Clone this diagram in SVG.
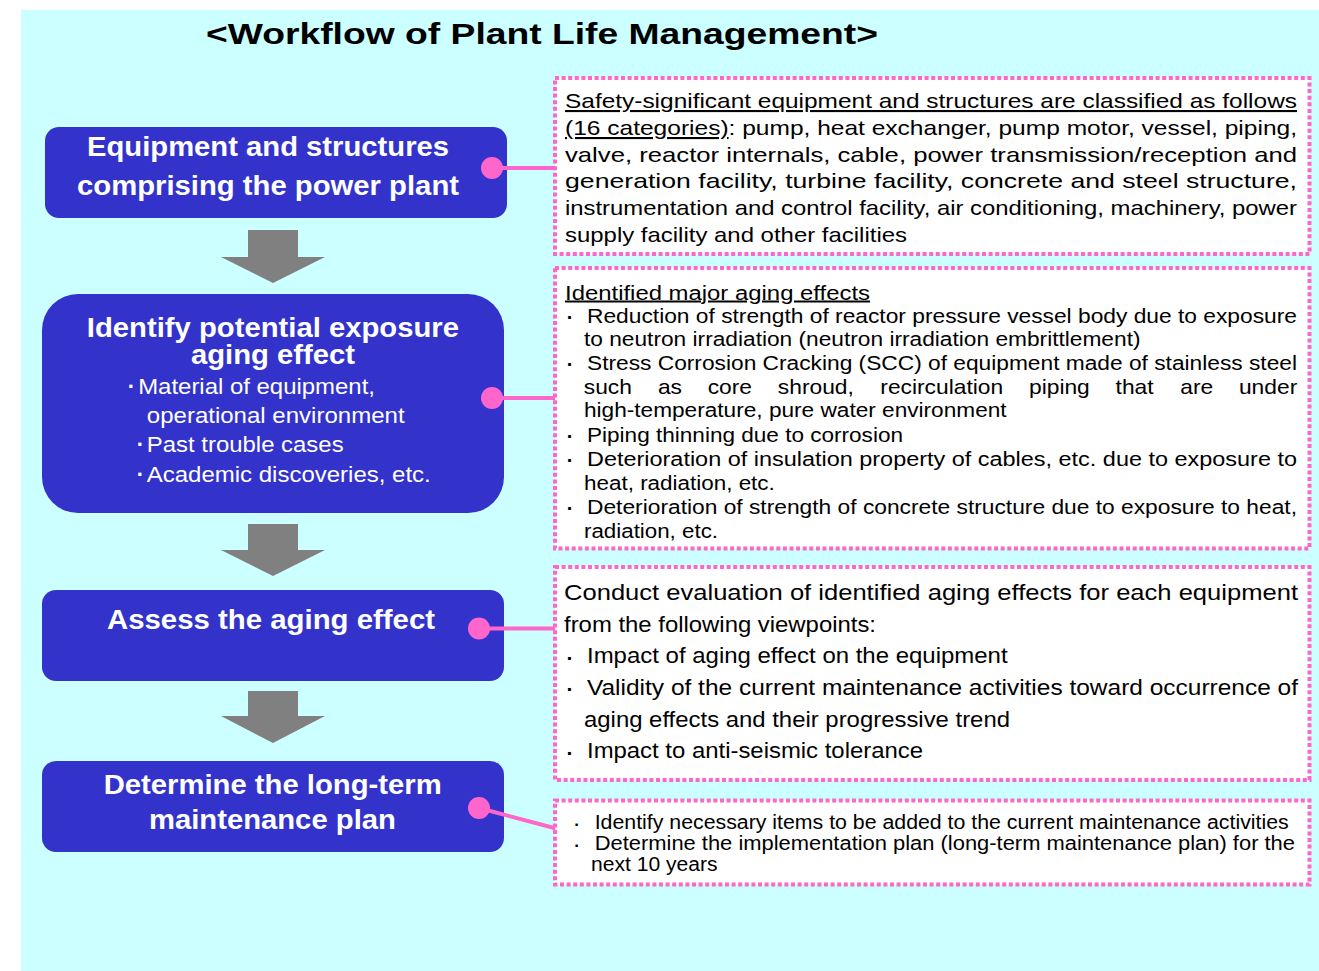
<svg xmlns="http://www.w3.org/2000/svg" width="1319" height="971" viewBox="0 0 1319 971">
<style>
.bg{fill:#CCFFFF}
.node{fill:#3333CC}
.nt{font-family:"Liberation Sans",Arial,sans-serif;font-weight:bold;fill:#FFFFFF;text-anchor:middle}
.nb{font-family:"Liberation Sans",Arial,sans-serif;fill:#FFFFFF}
.dot{font-family:"Liberation Sans",Arial,sans-serif;font-weight:bold;text-anchor:middle}
.note{fill:#FFFFFF;stroke:#FF66CC;stroke-width:4;stroke-dasharray:4 2.6}
.tx{font-family:"Liberation Sans",Arial,sans-serif;fill:#000000}
.ul{text-decoration:underline}
.arrow{fill:#808080}
.conn{stroke:#FF66CC;stroke-width:4;fill:none}
.cdot{fill:#FF66CC}
</style>
<rect class="bg" x="21" y="10" width="1298" height="961"/>
<text x="206" y="44" font-family="Liberation Sans,Arial,sans-serif" font-weight="bold" font-size="30" textLength="672" lengthAdjust="spacingAndGlyphs" fill="#000">&lt;Workflow of Plant Life Management&gt;</text>

<g id="arrows">
<polygon class="arrow" points="248,230 298,230 298,257 325,257 273,283 221,257 248,257"/>
<polygon class="arrow" points="248,524 298,524 298,550 325,550 273,576 221,550 248,550"/>
<polygon class="arrow" points="248,691 298,691 298,716 325,716 273,743 221,716 248,716"/>
</g>

<g id="node-equipment">
<rect class="node" x="45" y="127" width="462" height="91" rx="14"/>
<text class="nt" x="268" y="156" font-size="28" textLength="362" lengthAdjust="spacingAndGlyphs">Equipment and structures</text>
<text class="nt" x="268" y="195" font-size="28" textLength="382" lengthAdjust="spacingAndGlyphs">comprising the power plant</text>
</g>

<g id="node-identify">
<rect class="node" x="42" y="294" width="462" height="219" rx="36"/>
<text class="nt" font-size="28" transform="scale(1.045 1)"><tspan x="261.2" y="337">Identify potential exposure</tspan><tspan x="261.2" y="364">aging effect</tspan></text>
<text class="dot" x="131.5" y="394" font-size="22" fill="#FFFFFF">·</text>
<text class="nb" x="138.2" y="394" font-size="21.5" textLength="236.8" lengthAdjust="spacingAndGlyphs">Material of equipment,</text>
<text class="nb" x="146.8" y="423" font-size="21.5" textLength="257.8" lengthAdjust="spacingAndGlyphs">operational environment</text>
<text class="dot" x="140.4" y="452" font-size="22" fill="#FFFFFF">·</text>
<text class="nb" x="146.8" y="452" font-size="21.5" textLength="196.8" lengthAdjust="spacingAndGlyphs">Past trouble cases</text>
<text class="dot" x="140.4" y="482" font-size="22" fill="#FFFFFF">·</text>
<text class="nb" x="146.8" y="481.7" font-size="21.5" textLength="283.9" lengthAdjust="spacingAndGlyphs">Academic discoveries, etc.</text>
</g>

<g id="node-assess">
<rect class="node" x="42" y="590" width="462" height="91" rx="14"/>
<text class="nt" x="271" y="629" font-size="28" textLength="328" lengthAdjust="spacingAndGlyphs">Assess the aging effect</text>
</g>

<g id="node-determine">
<rect class="node" x="42" y="761" width="462" height="91" rx="14"/>
<text class="nt" x="272.7" y="794" font-size="28" textLength="338" lengthAdjust="spacingAndGlyphs">Determine the long-term</text>
<text class="nt" x="272.4" y="829" font-size="28" textLength="247" lengthAdjust="spacingAndGlyphs">maintenance plan</text>
</g>

<g id="connectors">
<line class="conn" x1="492" y1="168" x2="556" y2="168"/>
<circle class="cdot" cx="492" cy="168" r="11"/>
<line class="conn" x1="492" y1="398" x2="556" y2="398"/>
<circle class="cdot" cx="492" cy="398" r="11"/>
<line class="conn" x1="479" y1="628.5" x2="556" y2="628.5"/>
<circle class="cdot" cx="479" cy="628.5" r="11"/>
<line class="conn" x1="479" y1="808" x2="556" y2="828.5"/>
<circle class="cdot" cx="479" cy="808" r="11"/>
</g>

<g id="note-categories">
<rect class="note" x="555" y="78" width="754.5" height="176"/>
<g class="tx" font-size="21">
<text class="ul" x="565" y="108" textLength="732" lengthAdjust="spacingAndGlyphs">Safety-significant equipment and structures are classified as follows</text>
<text x="565" y="135" textLength="732" lengthAdjust="spacingAndGlyphs"><tspan class="ul">(16 categories)</tspan>: pump, heat exchanger, pump motor, vessel, piping,</text>
<text x="565" y="161.7" textLength="732" lengthAdjust="spacingAndGlyphs">valve, reactor internals, cable, power transmission/reception and</text>
<text x="565" y="188.3" textLength="732" lengthAdjust="spacingAndGlyphs">generation facility, turbine facility, concrete and steel structure,</text>
<text x="565" y="215" textLength="732" lengthAdjust="spacingAndGlyphs">instrumentation and control facility, air conditioning, machinery, power</text>
<text x="565" y="241.7" textLength="342" lengthAdjust="spacingAndGlyphs">supply facility and other facilities</text>
</g>
</g>

<g id="note-aging-effects">
<rect class="note" x="555" y="268" width="754.5" height="280.5"/>
<g class="tx" font-size="20">
<text class="ul" x="565" y="299.5" textLength="305" lengthAdjust="spacingAndGlyphs">Identified major aging effects</text>
<text class="dot" x="570" y="323.5" font-size="20">·</text>
<text x="587" y="322.7" textLength="710" lengthAdjust="spacingAndGlyphs">Reduction of strength of reactor pressure vessel body due to exposure</text>
<text x="584" y="346" textLength="556.5" lengthAdjust="spacingAndGlyphs">to neutron irradiation (neutron irradiation embrittlement)</text>
<text class="dot" x="570" y="371" font-size="20">·</text>
<text x="587" y="370" textLength="710" lengthAdjust="spacingAndGlyphs">Stress Corrosion Cracking (SCC) of equipment made of stainless steel</text>
<text transform="scale(1.14 1)" y="394"><tspan x="512.1">such</tspan><tspan x="577.1">as</tspan><tspan x="620.8">core</tspan><tspan x="682.3">shroud,</tspan><tspan x="772.2">recirculation</tspan><tspan x="902.6">piping</tspan><tspan x="978.6">that</tspan><tspan x="1035.4">are</tspan><tspan x="1086.8">under</tspan></text>
<text x="584" y="417.3" textLength="422.6" lengthAdjust="spacingAndGlyphs">high-temperature, pure water environment</text>
<text class="dot" x="570" y="442.5" font-size="20">·</text>
<text x="587" y="441.7" textLength="316" lengthAdjust="spacingAndGlyphs">Piping thinning due to corrosion</text>
<text class="dot" x="570" y="466.5" font-size="20">·</text>
<text x="587" y="465.7" textLength="710" lengthAdjust="spacingAndGlyphs">Deterioration of insulation property of cables, etc. due to exposure to</text>
<text x="584" y="490" textLength="190.8" lengthAdjust="spacingAndGlyphs">heat, radiation, etc.</text>
<text class="dot" x="570" y="515" font-size="20">·</text>
<text x="587" y="514" textLength="710" lengthAdjust="spacingAndGlyphs">Deterioration of strength of concrete structure due to exposure to heat,</text>
<text x="584" y="537.7" textLength="134" lengthAdjust="spacingAndGlyphs">radiation, etc.</text>
</g>
</g>

<g id="note-assessment">
<rect class="note" x="555" y="567" width="754.5" height="213"/>
<g class="tx" font-size="22">
<text x="564" y="600" textLength="734" lengthAdjust="spacingAndGlyphs">Conduct evaluation of identified aging effects for each equipment</text>
<text x="564" y="631.7" textLength="312" lengthAdjust="spacingAndGlyphs">from the following viewpoints:</text>
<text class="dot" x="570" y="664.5" font-size="21">·</text>
<text x="587" y="663.3" textLength="420.6" lengthAdjust="spacingAndGlyphs">Impact of aging effect on the equipment</text>
<text class="dot" x="570" y="696" font-size="21">·</text>
<text x="587" y="695" textLength="711" lengthAdjust="spacingAndGlyphs">Validity of the current maintenance activities toward occurrence of</text>
<text x="584" y="726.7" textLength="426" lengthAdjust="spacingAndGlyphs">aging effects and their progressive trend</text>
<text class="dot" x="570" y="759.5" font-size="21">·</text>
<text x="587" y="758.3" textLength="336" lengthAdjust="spacingAndGlyphs">Impact to anti-seismic tolerance</text>
</g>
</g>

<g id="note-plan">
<rect class="note" x="555" y="800.5" width="754.5" height="84"/>
<g class="tx" font-size="19.5">
<text class="dot" x="577" y="830" font-size="17">·</text>
<text x="594.7" y="829.3" textLength="694" lengthAdjust="spacingAndGlyphs">Identify necessary items to be added to the current maintenance activities</text>
<text class="dot" x="577" y="851" font-size="17">·</text>
<text x="594.7" y="850" textLength="700.3" lengthAdjust="spacingAndGlyphs">Determine the implementation plan (long-term maintenance plan) for the</text>
<text x="591" y="871" textLength="126.6" lengthAdjust="spacingAndGlyphs">next 10 years</text>
</g>
</g>
</svg>
